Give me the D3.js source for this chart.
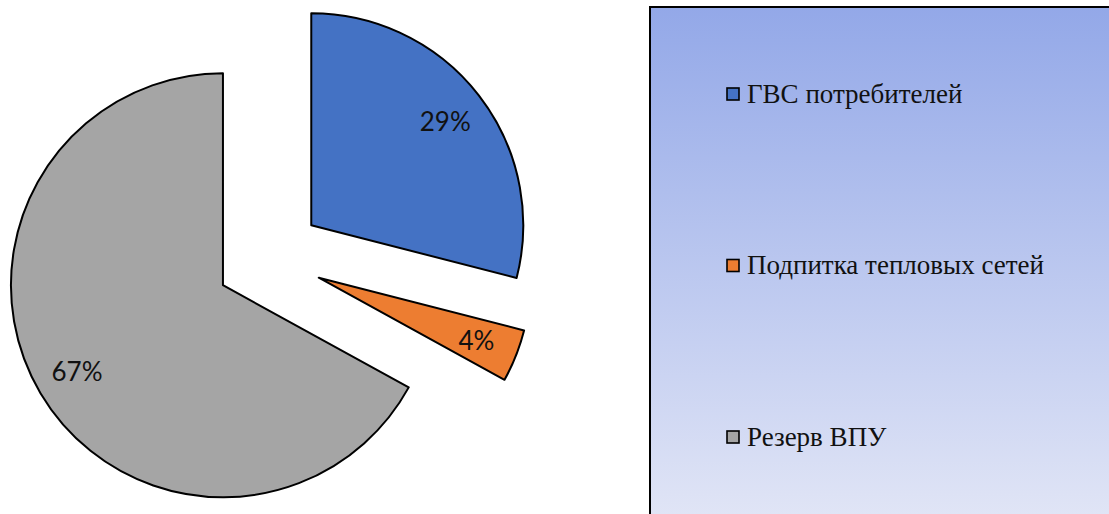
<!DOCTYPE html>
<html>
<head>
<meta charset="utf-8">
<script src="https://cdn.jsdelivr.net/npm/d3@7"></script>
<style>
body { margin: 0; background: #fff; }
</style>
</head>
<body>
<svg id="pie"></svg>
<script>
var categories = ["ГВС потребителей", "Подпитка тепловых сетей", "Резерв ВПУ"];
var values = [29, 4, 67];
var labels = ["29%", "4%", "67%"];
var colors = ["#4472c4", "#ed7d31", "#a5a5a5"];

var w = 1109;
var h = 514;
var cx = 269, cy = 258;
var r = 212;
var explode = 53.5;

var svg = d3.select("#pie")
	.attr("width", w)
	.attr("height", h);

// legend box with gradient
var defs = svg.append("defs");
var grad = defs.append("linearGradient")
	.attr("id", "legendGrad")
	.attr("x1", 0).attr("y1", 0)
	.attr("x2", 0).attr("y2", 1);
grad.append("stop").attr("offset", "0%").attr("stop-color", "#93a8e8");
grad.append("stop").attr("offset", "100%").attr("stop-color", "#e2e6f6");

svg.append("rect")
	.attr("x", 650)
	.attr("y", 7)
	.attr("width", 520)
	.attr("height", 520)
	.attr("fill", "url(#legendGrad)")
	.attr("stroke", "black")
	.attr("stroke-width", 2);

var pie = d3.pie().sort(null).value(function (d) { return d; });
var arcs = pie(values);
var arc = d3.arc().innerRadius(0).outerRadius(r);
var labelArc = d3.arc().innerRadius(r * 0.8).outerRadius(r * 0.8);

var g = svg.append("g")
	.attr("transform", "translate(" + cx + "," + cy + ")");

var slices = g.selectAll("g.slice")
	.data(arcs)
	.enter()
	.append("g")
	.attr("class", "slice")
	.attr("transform", function (d) {
		var a = (d.startAngle + d.endAngle) / 2;
		return "translate(" + (Math.sin(a) * explode) + "," + (-Math.cos(a) * explode) + ")";
	});

slices.append("path")
	.attr("d", arc)
	.attr("fill", function (d, i) { return colors[i]; })
	.attr("stroke", "black")
	.attr("stroke-width", 2)
	.attr("stroke-linejoin", "round");

slices.append("text")
	.attr("transform", function (d) { return "translate(" + labelArc.centroid(d) + ")"; })
	.attr("text-anchor", "middle")
	.attr("dy", "0.36em")
	.attr("font-family", "Lato, 'Open Sans', sans-serif")
	.attr("font-size", 26)
	.attr("fill", "#111")
	.text(function (d, i) { return labels[i]; });

// legend
var legendY = d3.scalePoint()
	.domain(categories)
	.range([94, 437]);

var items = svg.selectAll("g.item")
	.data(categories)
	.enter()
	.append("g")
	.attr("class", "item")
	.attr("transform", function (d) { return "translate(727," + legendY(d) + ")"; });

items.append("rect")
	.attr("x", 0)
	.attr("y", -6)
	.attr("width", 12)
	.attr("height", 12)
	.attr("fill", function (d, i) { return colors[i]; })
	.attr("stroke", "black")
	.attr("stroke-width", 1.6);

items.append("text")
	.attr("x", 20)
	.attr("dy", "0.33em")
	.attr("font-family", "'Liberation Serif', 'Times New Roman', serif")
	.attr("font-size", 27)
	.attr("fill", "#111")
	.text(function (d) { return d; });
</script>
</body>
</html>
